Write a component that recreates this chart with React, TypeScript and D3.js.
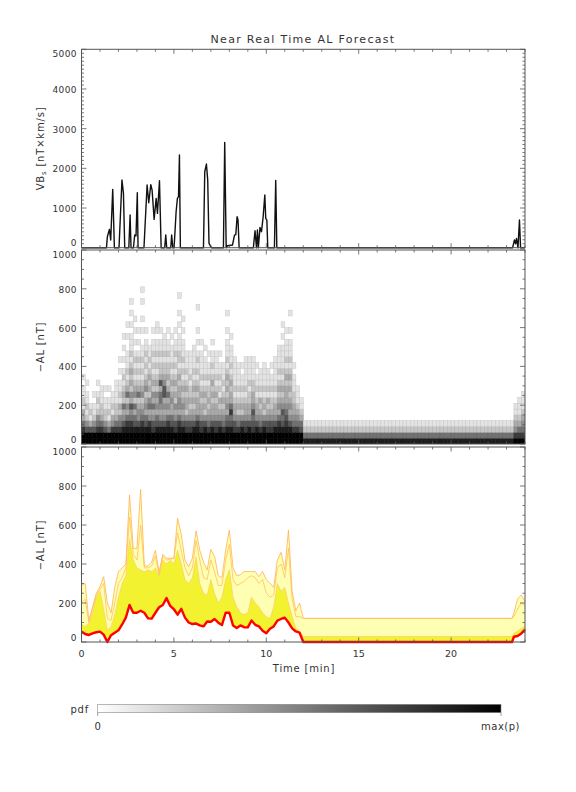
import React from 'react';
import * as d3 from 'd3';

// ---- panel 1: VBs time series (minutes, nT x km/s)
const vbsTime = [
  0, 1.35, 1.4, 1.51, 1.58, 1.69, 1.78, 2.03, 2.19, 2.27, 2.34, 2.56, 2.63, 2.68, 2.81, 2.88, 2.95, 3.02, 3.06,
  3.38, 3.55, 3.64, 3.75, 3.82, 3.93, 4.04, 4.11, 4.22, 4.31, 4.5, 4.56, 4.61, 4.83, 4.88, 4.94, 5.01, 5.12,
  5.19, 5.25, 5.3, 5.35, 6.6, 6.67, 6.76, 6.83, 6.9, 7.0, 7.05, 7.68, 7.75, 7.83, 7.9, 8.17, 8.28, 8.35, 8.42,
  8.47, 8.53, 9.3, 9.39, 9.47, 9.52, 9.57, 9.66, 9.74, 9.83, 9.92, 9.97, 10.03, 10.08, 10.44, 10.51, 10.57,
  23.33, 23.43, 23.49, 23.54, 23.62, 23.7, 23.76, 24.0,
];
const vbsValue = [
  0, 0, 277, 463, 194, 1470, 0, 0, 1705, 1370, 0, 0, 824, 0, 0, 319, 300, 1386, 0,
  0, 1580, 1134, 1588, 1453, 715, 1244, 866, 1688, 0, 0, 319, 0, 0, 319, 0, 0, 907,
  1244, 1285, 2335, 0, 0, 1914, 2108, 1705, 109, 25, 0, 0, 2655, 0, 50, 67, 319, 330, 781,
  697, 0, 0, 428, 0, 445, 0, 512, 403, 781, 1327, 739, 697, 0, 0, 1697, 0,
  0, 194, 100, 236, 0, 697, 0, 0,
];

// ---- panel 2: pdf of -AL, one string per 0.2 min column, one digit per 30 nT bin (0 = empty, 9 = max)
const heatStep = 0.2;
const heatBin = 30;
const heatCols = [
  '9975331211010', '99642121101', '9963121', '996421101', '99754212101',
  '9975322111', '9964221101', '9953121101', '997431211', '99753221111',
  '997542312110101', '9986435232121010101', '99875342532121110010100', '99875463423232121110101010', '9986535243212121010101',
  '99864432532121210101', '998754324321212110010100101', '99865343243212121101', '9987435423232121100', '99764353423212121101',
  '998653434232121211011', '99864345536322121101', '9986434366432212111', '99875343532322121101', '9986533432321211101',
  '997643423232121211010', '99875344332321221110101001', '9986434323212121110101', '99764233232121110', '9976432322121111',
  '99864323232121111', '998753332321212101010001', '9976433232121111010', '99864232321211101', '9975432322121101',
  '998643323232121101', '99764332321211110', '9986432312121101', '997543232121110', '99865343232321211101001',
  '9986575332321211101', '997643321211111', '99754232121111', '99864232121101', '997643321211111',
  '9986433221211110', '997656433221111', '99864332121101', '9975432312111', '99864232121111',
  '9976432312111', '99764322121101', '998643321211111', '99875343232121111', '998656432321211110101',
  '99876543332321211101', '99864343232321211101001', '99754332211101', '9975432111', '99653211',
];
const heatFlat = '8521';
const heatFlatSpan = [12.0, 23.4];
const heatTail = ['9743211', '97532111', '975432111'];

// ---- panel 3: -AL forecast bands
const alTime = [
  0, 0.2, 0.4, 0.6, 0.8, 1.0, 1.2, 1.4, 1.6, 1.8,
  2.0, 2.2, 2.4, 2.6, 2.8, 3.0, 3.2, 3.4, 3.6, 3.8,
  4.0, 4.2, 4.4, 4.6, 4.8, 5.0, 5.2, 5.4, 5.6, 5.8,
  6.0, 6.2, 6.4, 6.6, 6.8, 7.0, 7.2, 7.4, 7.6, 7.8,
  8.0, 8.2, 8.4, 8.6, 8.8, 9.0, 9.2, 9.4, 9.6, 9.8,
  10.0, 10.2, 10.4, 10.6, 10.8, 11.0, 11.2, 11.4, 11.6, 11.8,
  12.0, 23.3, 23.4, 23.6, 23.8, 24.0,
];
const alRed = [
  53, 41, 36, 44, 50, 53, 38, 0, 35, 48,
  60, 90, 125, 190, 150, 150, 160, 150, 121, 120,
  150, 178, 190, 225, 185, 168, 140, 170, 125, 100,
  92, 95, 85, 80, 105, 104, 118, 99, 87, 150,
  150, 85, 72, 85, 76, 75, 110, 88, 80, 58,
  45, 68, 80, 110, 118, 125, 100, 70, 54, 48,
  0, 0, 27, 31, 44, 63,
];
const alInner = [
  90, 80, 96, 150, 230, 260, 170, 60, 80, 140,
  230, 300, 340, 530, 420, 380, 370, 360, 370, 360,
  380, 340, 420, 400, 420, 400, 470, 400, 320, 300,
  330, 437, 300, 250, 240, 320, 250, 200, 230, 320,
  370, 230, 180, 150, 140, 150, 230, 200, 180, 150,
  130, 120, 180, 300, 260, 280, 200, 130, 70, 55,
  28, 28, 45, 55, 70, 80,
];
const alMid = [
  200, 220, 100, 170, 240, 270, 300, 120, 110, 200,
  300, 330, 380, 640, 450, 420, 600, 380, 380, 390,
  440, 345, 440, 420, 425, 428, 560, 470, 380, 340,
  380, 520, 420, 330, 320, 420, 360, 290, 290, 420,
  500, 320, 290, 300, 310, 330, 340, 330, 300, 320,
  250, 230, 240, 380, 400, 330, 480, 220, 130, 130,
  121, 121, 130, 170, 200, 185,
];
const alOuter = [
  290, 300, 110, 180, 250, 284, 335, 200, 150, 280,
  361, 380, 400, 754, 480, 480, 783, 390, 390, 410,
  470, 360, 450, 430, 429, 430, 634, 550, 420, 386,
  430, 570, 470, 410, 370, 475, 440, 340, 330, 470,
  574, 380, 340, 345, 361, 361, 361, 361, 335, 361,
  320, 301, 280, 420, 460, 370, 574, 260, 160, 200,
  121, 121, 150, 220, 241, 207,
];

// ---- ticks
const xMajor = [0, 5, 10, 15, 20];
const vbsMajor = [0, 1000, 2000, 3000, 4000, 5000];
const alMajor = [0, 200, 400, 600, 800, 1000];

const FONT = 'DejaVu Sans, sans-serif';
const TXT = '#333';
const AX = '#555';
const X0 = 81.5;
const X1 = 525;

const x = d3.scaleLinear().domain([0, 24]).range([X0, X1]);

function Frame({ y, major, minorStep, xLabels }) {
  const [bot, top] = y.range();
  const [d0, d1] = y.domain();
  const minor = d3.range(d0, d1 + 0.001, minorStep);
  const xMinor = d3.range(0, 24.001, 1);
  return (
    <g>
      <rect x={X0} y={top} width={X1 - X0} height={bot - top} fill="none" stroke={AX} strokeWidth={1} />
      {xMinor.map((t) => {
        const len = t % 5 === 0 ? 4.5 : 2.5;
        return (
          <g key={'xt' + t} stroke={AX} strokeWidth={0.8}>
            <line x1={x(t)} x2={x(t)} y1={bot} y2={bot - len} />
            <line x1={x(t)} x2={x(t)} y1={top} y2={top + len} />
          </g>
        );
      })}
      {minor.map((v) => {
        const len = major.includes(v) ? 5 : 2.5;
        return (
          <g key={'yt' + v} stroke={AX} strokeWidth={0.8}>
            <line x1={X0} x2={X0 + len} y1={y(v)} y2={y(v)} />
            <line x1={X1} x2={X1 - len} y1={y(v)} y2={y(v)} />
          </g>
        );
      })}
      {major.map((v, i) => {
        let yy = y(v) + 4;
        if (i === 0) yy -= 5.5;
        if (i === major.length - 1) yy += 3.5;
        return (
          <text key={'yl' + v} x={77} y={yy} textAnchor="end" fontSize={9} letterSpacing={0.4} fontFamily={FONT} fill={TXT}>
            {v}
          </text>
        );
      })}
      {xLabels &&
        xMajor.map((t) => (
          <text key={'xl' + t} x={x(t)} y={bot + 15} textAnchor="middle" fontSize={9.5} fontFamily={FONT} fill={TXT}>
            {t}
          </text>
        ))}
    </g>
  );
}

export default function App() {
  const y1 = d3.scaleLinear().domain([0, 5000]).range([247.7, 49.3]);
  const y2 = d3.scaleLinear().domain([0, 1000]).range([444, 250]);
  const y3 = d3.scaleLinear().domain([0, 1000]).range([642, 447]);

  const gray = d3.scaleLinear<string>().domain([0, 9]).range(['#ffffff', '#000000']);

  const vbsLine = d3
    .line<number>()
    .x((_, i) => x(vbsTime[i]))
    .y((d) => y1(d));

  // heatmap columns
  const cols: { t: number; s: string }[] = [];
  heatCols.forEach((s, i) => cols.push({ t: i * heatStep, s }));
  for (let t = heatFlatSpan[0]; t < heatFlatSpan[1] - 1e-6; t += heatStep) cols.push({ t, s: heatFlat });
  heatTail.forEach((s, i) => cols.push({ t: heatFlatSpan[1] + i * heatStep, s }));

  const cells: React.ReactNode[] = [];
  cols.forEach((c, ci) => {
    const xa = x(c.t);
    const xb = x(Math.min(24, c.t + heatStep));
    c.s.split('').forEach((ch, r) => {
      const k = +ch;
      if (!k) return;
      const fill = gray(k);
      const ya = y2((r + 1) * heatBin);
      const yb = y2(r * heatBin);
      cells.push(
        <rect
          key={ci + '_' + r}
          x={xa}
          y={ya}
          width={xb - xa}
          height={yb - ya}
          fill={fill}
          stroke={d3.color(fill)!.darker(0.35).toString()}
          strokeWidth={0.5}
        />
      );
    });
  });

  const areaBright = d3
    .area<number>()
    .x((_, i) => x(alTime[i]))
    .y0((_, i) => y3(alRed[i]))
    .y1((_, i) => y3(alInner[i]));
  const areaLight = d3
    .area<number>()
    .x((_, i) => x(alTime[i]))
    .y0((_, i) => y3(alInner[i]))
    .y1((_, i) => y3(alOuter[i]));
  const alLine = (arr: number[]) =>
    d3
      .line<number>()
      .x((_, i) => x(alTime[i]))
      .y((d) => y3(d))(arr) as string;

  return (
    <svg
      width={576}
      height={792}
      style={{ position: 'absolute', left: 0, top: 0, background: '#fff' }}
      xmlns="http://www.w3.org/2000/svg"
    >
      <defs>
        <linearGradient id="pdfbar" x1="0" x2="1" y1="0" y2="0">
          <stop offset="0" stopColor="#ffffff" />
          <stop offset="1" stopColor="#000000" />
        </linearGradient>
        <clipPath id="c2">
          <rect x={X0} y={250} width={X1 - X0} height={194} />
        </clipPath>
      </defs>
      <rect x={0} y={0} width={576} height={792} fill="#fff" />

      <text x={303} y={43} textAnchor="middle" fontSize={11} letterSpacing={1.3} fontFamily={FONT} fill={TXT}>
        Near Real Time AL Forecast
      </text>

      {/* panel 1 */}
      <path d={vbsLine(vbsValue) as string} fill="none" stroke="#111" strokeWidth={1.4} strokeLinejoin="round" />
      <Frame y={y1} major={vbsMajor} minorStep={100} xLabels={false} />
      <text
        transform="translate(44,148.5) rotate(-90)"
        textAnchor="middle"
        fontSize={10}
        letterSpacing={0.8}
        fontFamily={FONT}
        fill={TXT}
      >
        VB<tspan fontSize={7} dy={2}>s</tspan>
        <tspan dy={-2}> [nT×km/s]</tspan>
      </text>

      {/* panel 2 */}
      <g clipPath="url(#c2)">{cells}</g>
      <Frame y={y2} major={alMajor} minorStep={50} xLabels={false} />
      <text transform="translate(44,347) rotate(-90)" textAnchor="middle" fontSize={10} letterSpacing={0.8} fontFamily={FONT} fill={TXT}>
        −AL [nT]
      </text>

      {/* panel 3 */}
      <path d={areaLight(alOuter) as string} fill="#ffffb4" />
      <path d={areaBright(alOuter) as string} fill="#f2f230" />
      <path d={alLine(alOuter)} fill="none" stroke="#ffb34d" strokeWidth={0.8} />
      <path d={alLine(alMid)} fill="none" stroke="#ffbf66" strokeWidth={0.8} />
      <path d={alLine(alInner)} fill="none" stroke="#ffc266" strokeWidth={0.6} />
      <path d={alLine(alRed)} fill="none" stroke="#ff0000" strokeWidth={2.4} strokeLinejoin="round" />
      <Frame y={y3} major={alMajor} minorStep={50} xLabels={true} />
      <text transform="translate(44,545) rotate(-90)" textAnchor="middle" fontSize={10} letterSpacing={0.8} fontFamily={FONT} fill={TXT}>
        −AL [nT]
      </text>
      <text x={304} y={672} textAnchor="middle" fontSize={10} letterSpacing={0.8} fontFamily={FONT} fill={TXT}>
        Time [min]
      </text>

      {/* colour bar */}
      <rect x={97.7} y={704.3} width={403.3} height={8.4} fill="url(#pdfbar)" stroke="#888" strokeWidth={0.6} />
      <line x1={97.7} x2={97.7} y1={712.7} y2={716} stroke="#888" strokeWidth={0.8} />
      <line x1={501} x2={501} y1={712.7} y2={716} stroke="#888" strokeWidth={0.8} />
      <text x={89} y={713} textAnchor="end" fontSize={10} letterSpacing={0.8} fontFamily={FONT} fill={TXT}>
        pdf
      </text>
      <text x={97.7} y={729.5} textAnchor="middle" fontSize={10} fontFamily={FONT} fill={TXT}>
        0
      </text>
      <text x={500.5} y={729.5} textAnchor="middle" fontSize={10} letterSpacing={0.5} fontFamily={FONT} fill={TXT}>
        max(p)
      </text>
    </svg>
  );
}
